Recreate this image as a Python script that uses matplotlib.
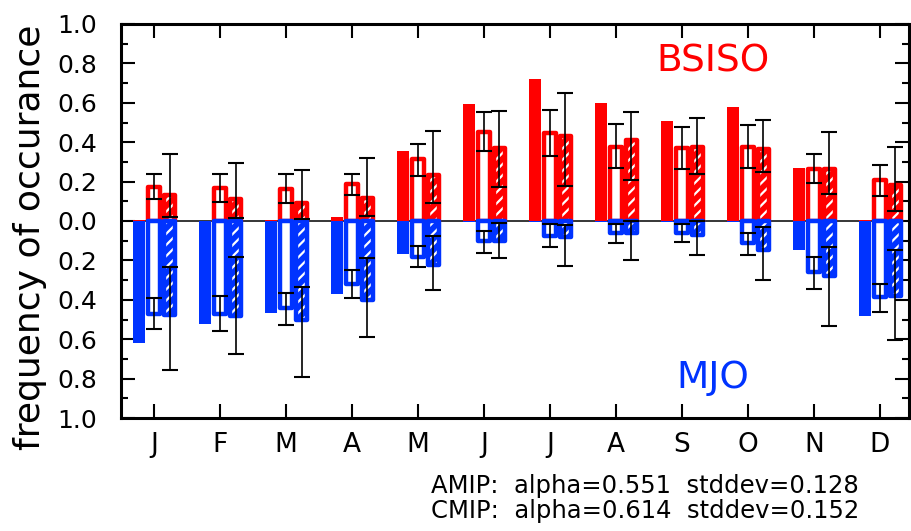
import numpy as np
import matplotlib
matplotlib.use("Agg")
import matplotlib.pyplot as plt
from matplotlib.ticker import MultipleLocator, FuncFormatter

# month labels
months = ['J', 'F', 'M', 'A', 'M', 'J', 'J', 'A', 'S', 'O', 'N', 'D']

# observed frequency (filled bars)
obs_bsiso = [0.005, 0.0, 0.007, 0.019, 0.357, 0.594, 0.72, 0.60, 0.508, 0.577, 0.271, 0.007]
obs_mjo = [0.62, 0.523, 0.465, 0.372, 0.169, 0.006, 0.005, 0.005, 0.005, 0.005, 0.147, 0.48]

# AMIP (open bars) with error bar ends
amip_bsiso = [0.175, 0.167, 0.163, 0.188, 0.315, 0.454, 0.449, 0.378, 0.37, 0.375, 0.265, 0.206]
amip_bsiso_lo = [0.112, 0.098, 0.093, 0.132, 0.23, 0.355, 0.33, 0.267, 0.262, 0.267, 0.191, 0.128]
amip_bsiso_hi = [0.237, 0.24, 0.237, 0.239, 0.392, 0.555, 0.562, 0.49, 0.479, 0.486, 0.34, 0.284]
amip_mjo = [0.47, 0.47, 0.444, 0.32, 0.183, 0.10, 0.076, 0.061, 0.063, 0.11, 0.261, 0.388]
amip_mjo_lo = [0.389, 0.381, 0.364, 0.249, 0.127, 0.049, 0.015, 0.015, 0.015, 0.059, 0.184, 0.321]
amip_mjo_hi = [0.55, 0.558, 0.526, 0.392, 0.234, 0.164, 0.13, 0.11, 0.108, 0.173, 0.345, 0.463]

# CMIP (hatched bars) with error bar ends
cmip_bsiso = [0.132, 0.112, 0.091, 0.117, 0.234, 0.373, 0.434, 0.411, 0.378, 0.367, 0.265, 0.183]
cmip_bsiso_lo = [0.019, 0.014, 0.009, 0.025, 0.091, 0.174, 0.178, 0.208, 0.239, 0.247, 0.135, 0.051]
cmip_bsiso_hi = [0.339, 0.296, 0.26, 0.318, 0.458, 0.558, 0.65, 0.553, 0.521, 0.513, 0.452, 0.377]
cmip_mjo = [0.477, 0.482, 0.505, 0.401, 0.223, 0.099, 0.081, 0.063, 0.069, 0.145, 0.279, 0.38]
cmip_mjo_lo = [0.232, 0.183, 0.335, 0.19, 0.075, 0.009, 0.02, 0.0, 0.0, 0.029, 0.13, 0.147]
cmip_mjo_hi = [0.756, 0.675, 0.793, 0.59, 0.35, 0.19, 0.228, 0.198, 0.173, 0.30, 0.533, 0.604]

stats_text = ["AMIP:  alpha=0.551  stddev=0.128",
              "CMIP:  alpha=0.614  stddev=0.152"]

RED = '#ff0000'
BLUE = '#0033ff'
plt.rcParams['hatch.linewidth'] = 1.6


def outline_bars(ax, x, h, color, width, hatched):
    # hatched fill first, then the thick rounded outline on top
    if hatched:
        ax.bar(x, h, width=width, color=color, edgecolor='white',
               hatch='///', linewidth=0, zorder=3)
        ax.bar(x, h, width=width, fill=False, edgecolor=color,
               linewidth=3.2, joinstyle='round', zorder=3)
    else:
        ax.bar(x, h, width=width, facecolor='white', edgecolor=color,
               linewidth=3.2, joinstyle='round', zorder=3)


def errbars(ax, x, val, lo, hi, sign):
    val = np.array(val) * sign
    lo = np.array(lo) * sign
    hi = np.array(hi) * sign
    bottom = np.minimum(lo, hi)
    top = np.maximum(lo, hi)
    ax.errorbar(x, val, yerr=[val - bottom, top - val], fmt='none',
                ecolor='black', elinewidth=1.2, capsize=5.5, capthick=1.5,
                zorder=5)


def main():
    fig = plt.figure(figsize=(9.12, 5.31), dpi=100)
    ax = fig.add_axes([121 / 912, 1 - 418 / 531, 788 / 912, 394 / 531])

    xm = np.arange(1, 13)
    w = 0.175
    x_obs = xm - 0.227
    x_amip = xm
    x_cmip = xm + 0.235

    ax.axhline(0, color='black', lw=1.1, zorder=1)

    # observations
    ax.bar(x_obs, obs_bsiso, width=0.18, color=RED, lw=0, zorder=2)
    ax.bar(x_obs, -np.array(obs_mjo), width=0.18, color=BLUE, lw=0, zorder=2)

    # models, red first so blue sits on top at zero
    outline_bars(ax, x_amip, amip_bsiso, RED, w, False)
    outline_bars(ax, x_cmip, cmip_bsiso, RED, w, True)
    outline_bars(ax, x_amip, -np.array(amip_mjo), BLUE, w, False)
    outline_bars(ax, x_cmip, -np.array(cmip_mjo), BLUE, w, True)

    errbars(ax, x_amip, amip_bsiso, amip_bsiso_lo, amip_bsiso_hi, 1)
    errbars(ax, x_cmip, cmip_bsiso, cmip_bsiso_lo, cmip_bsiso_hi, 1)
    errbars(ax, x_amip, amip_mjo, amip_mjo_lo, amip_mjo_hi, -1)
    errbars(ax, x_cmip, cmip_mjo, cmip_mjo_lo, cmip_mjo_hi, -1)

    ax.set_xlim(0.5, 12.44)
    ax.set_ylim(-1.0, 1.0)
    ax.set_xticks(xm)
    ax.set_xticklabels(months)
    ax.yaxis.set_major_locator(MultipleLocator(0.2))
    ax.yaxis.set_minor_locator(MultipleLocator(0.1))
    ax.yaxis.set_major_formatter(FuncFormatter(lambda v, p: '%.1f' % abs(v)))

    ax.tick_params(axis='both', which='both', direction='in',
                   top=True, right=True, width=1.5)
    ax.tick_params(axis='y', which='major', length=10, labelsize=18, pad=17)
    ax.tick_params(axis='y', which='minor', length=5)
    ax.tick_params(axis='x', which='major', length=10, labelsize=19, pad=10)
    for s in ax.spines.values():
        s.set_linewidth(2.2)

    ax.text(713 / 912, 1 - 62 / 531, 'BSISO', color=RED, fontsize=27,
            ha='center', va='center', transform=fig.transFigure)
    ax.text(713 / 912, 1 - 378 / 531, 'MJO', color=BLUE, fontsize=27,
            ha='center', va='center', transform=fig.transFigure)

    fig.text(30 / 912, 1 - 237 / 531, 'frequency of occurance',
             rotation=90, fontsize=26, ha='center', va='center')

    fig.text(645 / 912, 1 - 486 / 531, stats_text[0], fontsize=17.5,
             ha='center', va='center')
    fig.text(645 / 912, 1 - 511 / 531, stats_text[1], fontsize=17.5,
             ha='center', va='center')

    fig.savefig('out.png', dpi=100)


if __name__ == "__main__":
    main()
